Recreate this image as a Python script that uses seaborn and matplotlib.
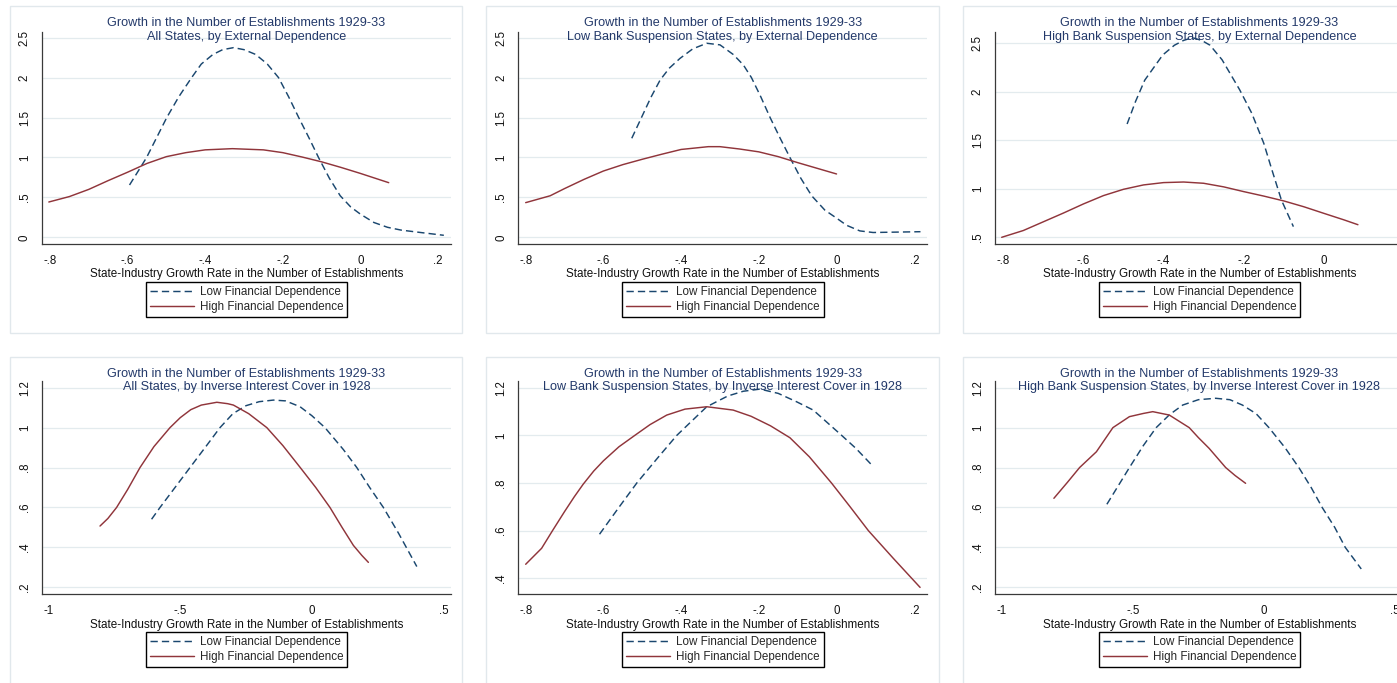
import matplotlib
matplotlib.use("Agg")
import matplotlib.pyplot as plt
from matplotlib.patches import Rectangle
import seaborn as sns
import numpy as np
import pandas as pd

W, H = 1397, 683

series_names = ["Low Financial Dependence", "High Financial Dependence"]
xlabel = "State-Industry Growth Rate in the Number of Establishments"
titles = [
    "Growth in the Number of Establishments 1929-33\nAll States, by External Dependence",
    "Growth in the Number of Establishments 1929-33\nLow Bank Suspension States, by External Dependence",
    "Growth in the Number of Establishments 1929-33\nHigh Bank Suspension States, by External Dependence",
    "Growth in the Number of Establishments 1929-33\nAll States, by Inverse Interest Cover in 1928",
    "Growth in the Number of Establishments 1929-33\nLow Bank Suspension States, by Inverse Interest Cover in 1928",
    "Growth in the Number of Establishments 1929-33\nHigh Bank Suspension States, by Inverse Interest Cover in 1928",
]

# tick values
xt_fine = [-0.8, -0.6, -0.4, -0.2, 0.0, 0.2]
xt_coarse = [-1.0, -0.5, 0.0, 0.5]
yt_ext = [0.0, 0.5, 1.0, 1.5, 2.0, 2.5]
yt_ext_high = [0.5, 1.0, 1.5, 2.0, 2.5]
yt_cov = [0.2, 0.4, 0.6, 0.8, 1.0, 1.2]
yt_cov_low = [0.4, 0.6, 0.8, 1.0, 1.2]

# panel 1: all states, external dependence
p1_low_x = [-0.595, -0.57, -0.551, -0.525, -0.499, -0.468, -0.435, -0.41, -0.38, -0.355, -0.327,
            -0.30, -0.27, -0.24, -0.211, -0.185, -0.159, -0.133, -0.108, -0.08, -0.052, -0.025,
            0.0, 0.035, 0.07, 0.105, 0.155, 0.215]
p1_low_y = [0.655, 0.85, 1.0, 1.25, 1.5, 1.76, 2.0, 2.17, 2.29, 2.35, 2.375,
            2.35, 2.29, 2.17, 2.0, 1.76, 1.5, 1.25, 1.0, 0.74, 0.52, 0.38,
            0.29, 0.185, 0.125, 0.09, 0.06, 0.025]
p1_high_x = [-0.803, -0.75, -0.7, -0.65, -0.6, -0.55, -0.5, -0.45, -0.4, -0.33, -0.25,
             -0.2, -0.15, -0.1, -0.05, 0.0, 0.073]
p1_high_y = [0.442, 0.51, 0.60, 0.71, 0.815, 0.925, 1.01, 1.06, 1.095, 1.11, 1.095,
             1.06, 1.005, 0.945, 0.875, 0.80, 0.684]

# panel 2: low bank suspension states, external dependence
p2_low_x = [-0.527, -0.502, -0.478, -0.454, -0.43, -0.403, -0.37, -0.334, -0.30, -0.266,
            -0.24, -0.219, -0.195, -0.171, -0.145, -0.12, -0.092, -0.064, -0.03, 0.0,
            0.026, 0.06, 0.094, 0.155, 0.216]
p2_low_y = [1.24, 1.5, 1.75, 1.97, 2.12, 2.24, 2.36, 2.43, 2.41, 2.29,
            2.16, 2.0, 1.76, 1.5, 1.24, 1.0, 0.74, 0.52, 0.34, 0.24,
            0.15, 0.08, 0.06, 0.065, 0.07]
p2_high_x = [-0.8, -0.737, -0.7, -0.65, -0.6, -0.55, -0.5, -0.45, -0.4, -0.33, -0.3,
             -0.25, -0.2, -0.15, -0.1, -0.05, 0.0]
p2_high_y = [0.434, 0.52, 0.61, 0.725, 0.83, 0.91, 0.977, 1.04, 1.10, 1.135, 1.135,
             1.106, 1.07, 1.01, 0.935, 0.864, 0.793]

# panel 3: high bank suspension states, external dependence
p3_low_x = [-0.491, -0.47, -0.447, -0.402, -0.373, -0.35, -0.328, -0.305, -0.284, -0.254,
            -0.21, -0.18, -0.15, -0.13, -0.106, -0.076]
p3_low_y = [1.668, 1.9, 2.12, 2.38, 2.48, 2.53, 2.558, 2.53, 2.48, 2.33,
            2.02, 1.78, 1.47, 1.2, 0.885, 0.61]
p3_high_x = [-0.804, -0.75, -0.7, -0.65, -0.6, -0.55, -0.5, -0.45, -0.4, -0.35, -0.3,
             -0.25, -0.2, -0.15, -0.1, -0.05, 0.0, 0.05, 0.085]
p3_high_y = [0.5, 0.57, 0.66, 0.75, 0.844, 0.93, 0.995, 1.04, 1.064, 1.07, 1.057,
             1.02, 0.971, 0.925, 0.875, 0.815, 0.747, 0.68, 0.63]

# panel 4: all states, inverse interest cover
p4_low_x = [-0.609, -0.577, -0.52, -0.463, -0.40, -0.349, -0.30, -0.25, -0.20, -0.146,
            -0.10, -0.045, 0.0, 0.05, 0.12, 0.171, 0.22, 0.272, 0.33, 0.399]
p4_low_y = [0.541, 0.60, 0.70, 0.80, 0.91, 1.0, 1.07, 1.11, 1.13, 1.138,
            1.134, 1.105, 1.06, 1.0, 0.89, 0.80, 0.70, 0.60, 0.47, 0.304]
p4_high_x = [-0.805, -0.775, -0.742, -0.70, -0.653, -0.60, -0.539, -0.50, -0.46, -0.42,
             -0.361, -0.32, -0.298, -0.24, -0.171, -0.11, -0.044, 0.015, 0.069, 0.115,
             0.158, 0.19, 0.215]
p4_high_y = [0.507, 0.545, 0.60, 0.69, 0.80, 0.905, 1.0, 1.05, 1.09, 1.113,
             1.127, 1.12, 1.113, 1.07, 1.0, 0.91, 0.80, 0.70, 0.60, 0.50,
             0.41, 0.36, 0.325]

# panel 5: low bank suspension states, inverse interest cover
p5_low_x = [-0.61, -0.56, -0.514, -0.46, -0.411, -0.37, -0.334, -0.28, -0.24, -0.197,
            -0.15, -0.103, -0.06, 0.013, 0.05, 0.088]
p5_low_y = [0.585, 0.698, 0.80, 0.906, 1.0, 1.064, 1.12, 1.165, 1.185, 1.194,
            1.176, 1.141, 1.106, 1.0, 0.945, 0.88]
p5_high_x = [-0.8, -0.759, -0.731, -0.70, -0.675, -0.652, -0.625, -0.60, -0.56, -0.519,
             -0.48, -0.437, -0.39, -0.334, -0.266, -0.22, -0.17, -0.12, -0.07, -0.013,
             0.035, 0.082, 0.146, 0.215]
p5_high_y = [0.459, 0.526, 0.60, 0.68, 0.742, 0.795, 0.85, 0.893, 0.952, 1.0,
             1.045, 1.085, 1.11, 1.12, 1.106, 1.08, 1.04, 0.99, 0.91, 0.80,
             0.70, 0.60, 0.484, 0.362]

# panel 6: high bank suspension states, inverse interest cover
p6_low_x = [-0.599, -0.555, -0.513, -0.46, -0.411, -0.36, -0.31, -0.25, -0.184, -0.13,
            -0.082, -0.03, 0.019, 0.08, 0.133, 0.18, 0.222, 0.27, 0.31, 0.371]
p6_low_y = [0.616, 0.71, 0.80, 0.91, 1.0, 1.065, 1.113, 1.14, 1.147, 1.14,
            1.113, 1.07, 1.0, 0.90, 0.80, 0.70, 0.60, 0.50, 0.40, 0.292]
p6_high_x = [-0.801, -0.75, -0.703, -0.639, -0.576, -0.513, -0.46, -0.424, -0.361, -0.285,
             -0.25, -0.209, -0.146, -0.11, -0.07]
p6_high_y = [0.646, 0.725, 0.80, 0.879, 1.0, 1.055, 1.071, 1.08, 1.063, 1.0,
             0.95, 0.896, 0.80, 0.76, 0.721]

navy = "#1a476f"
maroon = "#90353b"
title_col = "#23396a"
axis_col = "#3a3a3a"
grid_col = "#e3ebee"
frame_col = "#e1e8ec"

sns.set_style("white")
plt.rcParams["font.family"] = ["Liberation Sans", "DejaVu Sans"]

fig = plt.figure(figsize=(W / 100, H / 100), dpi=100)


def px_box(l, r, t, b):
    return [l / W, 1 - b / H, (r - l) / W, (b - t) / H]


def stata_fmt(v):
    v = round(v, 6)
    s = f"{v:g}"
    if abs(v) < 1 and v != 0:
        s = s.replace("0.", ".")
    return s


panels = [
    dict(low=(p1_low_x, p1_low_y), high=(p1_high_x, p1_high_y), box=(42, 451, 32, 244),
         xlim=(-0.8206, 0.2335), ylim=(-0.084, 2.571), xt=xt_fine, yt=yt_ext, frame=(10, 462, 6, 333)),
    dict(low=(p2_low_x, p2_low_y), high=(p2_high_x, p2_high_y), box=(518.3, 927, 32, 244),
         xlim=(-0.819, 0.2328), ylim=(-0.084, 2.571), xt=xt_fine, yt=yt_ext, frame=(486, 939, 6, 333)),
    dict(low=(p3_low_x, p3_low_y), high=(p3_high_x, p3_high_y), box=(995, 1404, 32, 244),
         xlim=(-0.8207, 0.088), ylim=(0.431, 2.6165), xt=xt_fine, yt=yt_ext_high, frame=(963, 1440, 6, 333)),
    dict(low=(p4_low_x, p4_low_y), high=(p4_high_x, p4_high_y), box=(42, 451, 381, 594.3),
         xlim=(-1.0255, 0.529), ylim=(0.165, 1.2336), xt=xt_coarse, yt=yt_cov, frame=(10, 462, 356.7, 700)),
    dict(low=(p5_low_x, p5_low_y), high=(p5_high_x, p5_high_y), box=(518.3, 927, 381, 594.3),
         xlim=(-0.819, 0.2328), ylim=(0.333, 1.228), xt=xt_fine, yt=yt_cov_low, frame=(486, 939, 356.7, 700)),
    dict(low=(p6_low_x, p6_low_y), high=(p6_high_x, p6_high_y), box=(995, 1404, 381, 594.3),
         xlim=(-1.0256, 0.534), ylim=(0.165, 1.2336), xt=xt_coarse, yt=yt_cov, frame=(963, 1440, 356.7, 700)),
]

for i, (p, title) in enumerate(zip(panels, titles)):
    fl, fr, ft, fb = p["frame"]
    fig.add_artist(Rectangle((fl / W, 1 - fb / H), (fr - fl) / W, (fb - ft) / H,
                             transform=fig.transFigure, fill=False, ec=frame_col, lw=1.0))

    ax = fig.add_axes(px_box(*p["box"]))
    df = pd.concat([
        pd.DataFrame({"x": p["low"][0], "y": p["low"][1], "series": series_names[0]}),
        pd.DataFrame({"x": p["high"][0], "y": p["high"][1], "series": series_names[1]}),
    ])
    sns.lineplot(data=df, x="x", y="y", hue="series", style="series",
                 hue_order=series_names, style_order=series_names,
                 palette={series_names[0]: navy, series_names[1]: maroon},
                 dashes={series_names[0]: (5, 2.8), series_names[1]: ""},
                 estimator=None, sort=False, lw=1.05, legend=False, ax=ax)

    ax.set_xlim(*p["xlim"])
    ax.set_ylim(*p["ylim"])
    ax.set_xticks(p["xt"], labels=[stata_fmt(v) for v in p["xt"]])
    ax.set_yticks(p["yt"], labels=[stata_fmt(v) for v in p["yt"]], rotation=90, va="center")
    ax.tick_params(length=4, width=0.8, color=axis_col, pad=4, labelsize=8.3, labelcolor="#111111")
    ax.grid(axis="y", color=grid_col, lw=0.9)
    ax.set_axisbelow(True)
    for s in ["top", "right"]:
        ax.spines[s].set_visible(False)
    for s in ["left", "bottom"]:
        ax.spines[s].set_color(axis_col)
        ax.spines[s].set_linewidth(0.9)
    ax.set_ylabel("")
    ax.set_xlabel(xlabel, fontsize=8.4, labelpad=0.8, color="#111111")

    hpx = p["box"][3] - p["box"][2]
    ty = 2.0 if i < 3 else 0.5
    ax.text(0.5, 1.0 + ty / hpx, title, transform=ax.transAxes, ha="center", va="center",
            fontsize=9.1, color=title_col, linespacing=1.32 if i < 3 else 1.2)

    leg = ax.legend(handles=ax.get_lines()[:2], labels=series_names, loc="upper center",
                    bbox_to_anchor=(0.5, -37.5 / hpx), frameon=True, fancybox=False,
                    edgecolor="black", framealpha=1, fontsize=8.4, handlelength=3.8,
                    handletextpad=0.5, borderpad=0.35, labelspacing=0.3, borderaxespad=0)
    leg.get_frame().set_linewidth(1.0)

fig.savefig("out.png", dpi=100)
